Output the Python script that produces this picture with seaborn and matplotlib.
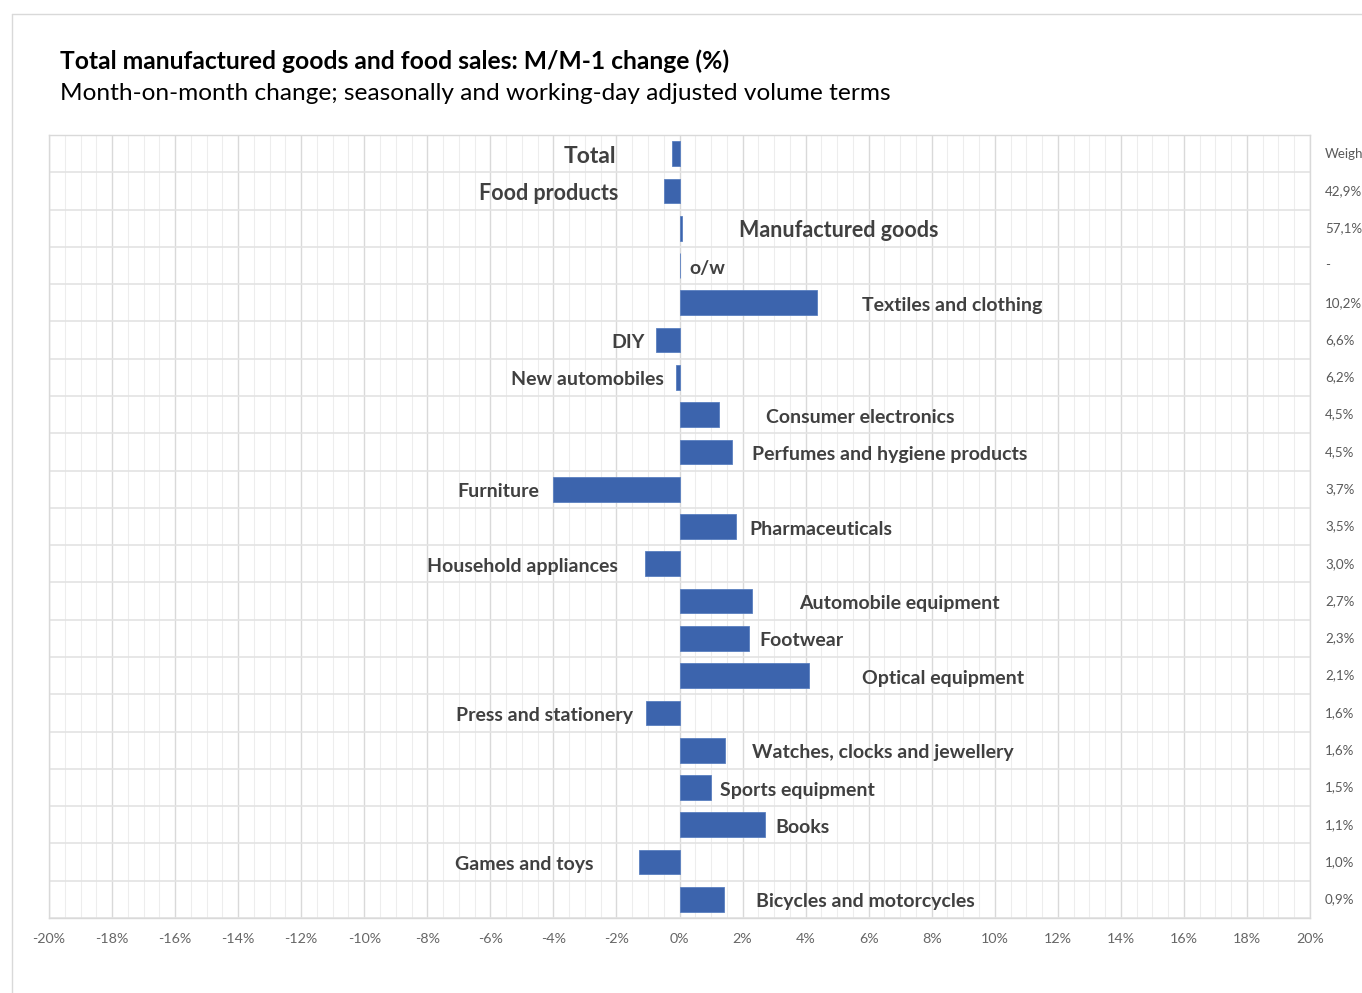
import matplotlib.pyplot as plt
from matplotlib.lines import Line2D
from matplotlib.transforms import blended_transform_factory
import seaborn as sns
import pandas as pd
import numpy as np

categories = ['Total', 'Food products', 'Manufactured goods', 'o/w', 'Textiles and clothing', 'DIY',
              'New automobiles', 'Consumer electronics', 'Perfumes and hygiene products', 'Furniture',
              'Pharmaceuticals', 'Household appliances', 'Automobile equipment', 'Footwear',
              'Optical equipment', 'Press and stationery', 'Watches, clocks and jewellery',
              'Sports equipment', 'Books', 'Games and toys', 'Bicycles and motorcycles']
changes = [-0.25, -0.5, 0.07, 0.0, 4.35, -0.75, -0.1, 1.25, 1.65, -4.0, 1.8, -1.1, 2.3, 2.2,
           4.1, -1.07, 1.45, 1.0, 2.7, -1.27, 1.4]
weights = ['Weigh', '42,9%', '57,1%', '-', '10,2%', '6,6%', '6,2%', '4,5%', '4,5%', '3,7%', '3,5%',
           '3,0%', '2,7%', '2,3%', '2,1%', '1,6%', '1,6%', '1,5%', '1,1%', '1,0%', '0,9%']

# where each label sits (x in %), labels of negative bars are right-aligned
label_x = [-2.0, -1.94, 1.9, 0.32, 5.78, -1.11, -0.51, 2.73, 2.29, -4.44, 2.22, -1.97, 3.78, 2.54,
           5.78, -1.46, 2.29, 1.30, 3.05, -2.73, 2.44]
label_align = ['right', 'right', 'left', 'left', 'left', 'right', 'right', 'left', 'left', 'right',
               'left', 'right', 'left', 'left', 'left', 'right', 'left', 'left', 'left', 'right', 'left']
label_size = [16.5, 15.5, 15.5] + [14] * 18

sns.set_theme(style='white')
plt.rcParams['font.family'] = ['Lato', 'DejaVu Sans']

df = pd.DataFrame({'category': categories, 'change': changes})

fig = plt.figure(figsize=(13.62, 9.93), dpi=100)
ax = fig.add_axes([49 / 1362, 1 - 918 / 993, 1261 / 1362, 783 / 993])

sns.barplot(data=df, x='change', y='category', orient='h', color='#3c64ad', width=0.66,
            saturation=1, edgecolor='#5a7fc0', linewidth=0.6, ax=ax)

ax.set_xlim(-20, 20)
ax.set_ylim(20.5, -0.5)
ax.set_xticks(np.arange(-20, 21, 2))
ax.set_xticklabels([f'{v}%' for v in range(-20, 21, 2)], color='#666666', fontsize=10.3)
ax.set_xticks(np.arange(-20, 20.01, 0.5), minor=True)
ax.set_yticks(np.arange(-0.5, 21, 1), minor=True)
ax.set_yticks([])
ax.grid(which='major', axis='x', color='#d9d9d9', linewidth=1)
ax.grid(which='minor', axis='x', color='#ededed', linewidth=0.8)
ax.grid(which='minor', axis='y', color='#e3e3e3', linewidth=1.2)
ax.set_axisbelow(True)
ax.tick_params(axis='x', which='both', length=0, pad=11)
ax.tick_params(axis='y', which='both', length=0)
ax.set_xlabel('')
ax.set_ylabel('')
for s in ax.spines.values():
    s.set_color('#d9d9d9')
    s.set_linewidth(1)

for i, (name, lx, ha, fs) in enumerate(zip(categories, label_x, label_align, label_size)):
    ax.text(lx, i + 0.07, name, ha=ha, va='center', fontsize=fs, fontweight='bold', color='#404040')

wtrans = blended_transform_factory(fig.transFigure, ax.transData)
for i, w in enumerate(weights):
    ax.text(1325 / 1362, i, w, transform=wtrans, ha='left', va='center', fontsize=9.6,
            color='#595959', clip_on=False)

fig.text(60 / 1362, 1 - 61 / 993, 'Total manufactured goods and food sales: M/M-1 change (%)',
         fontsize=17.7, fontweight='bold', color='black', va='center', ha='left')
fig.text(60 / 1362, 1 - 93 / 993, 'Month-on-month change; seasonally and working-day adjusted volume terms',
         fontsize=17.6, color='black', va='center', ha='left')

fig.add_artist(Line2D([12 / 1362, 12 / 1362], [0, 1 - 14 / 993], transform=fig.transFigure,
                      color='#d9d9d9', linewidth=1))
fig.add_artist(Line2D([12 / 1362, 1], [1 - 14 / 993, 1 - 14 / 993], transform=fig.transFigure,
                      color='#d9d9d9', linewidth=1))

plt.savefig('out.png', dpi=100)
